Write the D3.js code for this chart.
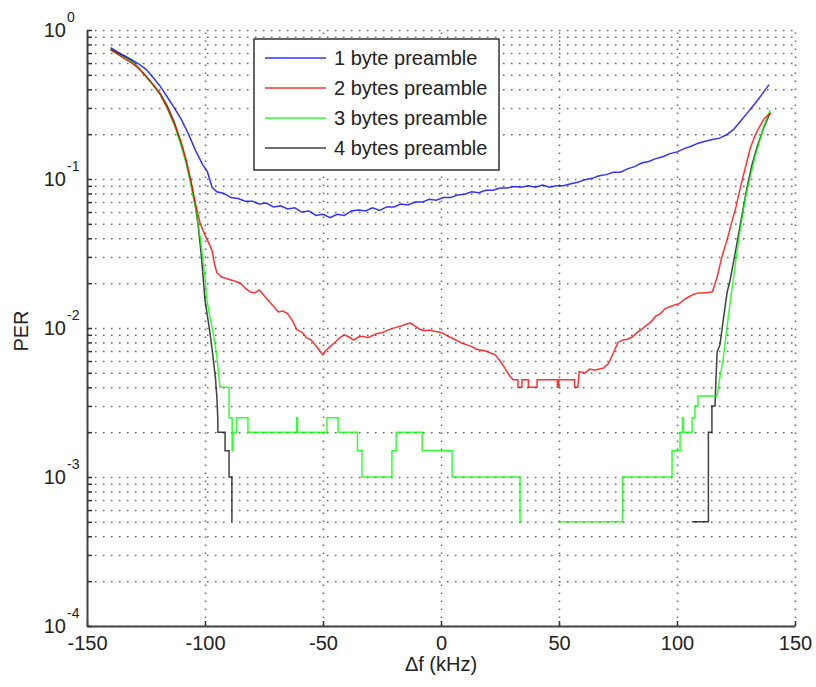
<!DOCTYPE html>
<html>
<head>
<meta charset="utf-8">
<script src="https://cdn.jsdelivr.net/npm/d3@7"></script>
<style>
  body { margin: 0; background: #fff; }
  text { font-family: "Liberation Sans", Arial, sans-serif; fill: #222; }
</style>
</head>
<body>
<script>
// PER vs frequency offset, 4 preamble lengths
var fBlue = [-140, -137, -134, -131, -128, -125, -122, -119, -116, -113, -110, -107, -104, -101, -99, -97, -95, -92, -89, -86, -83, -80, -77, -74, -71, -68, -65, -62, -59, -56, -53, -50, -47, -44, -41, -38, -35, -32, -29, -26, -23, -20, -17, -14, -11, -8, -5, -2, 1, 4, 7, 10, 13, 16, 19, 22, 25, 28, 31, 34, 37, 40, 43, 46, 49, 52, 55, 58, 61, 64, 67, 70, 73, 76, 79, 82, 85, 88, 91, 94, 97, 100, 103, 106, 109, 112, 115, 118, 121, 124, 127, 130, 133, 136, 139];
var pBlue = [0.76, 0.71, 0.67, 0.63, 0.59, 0.545, 0.48, 0.42, 0.355, 0.30, 0.25, 0.20, 0.155, 0.125, 0.112, 0.088, 0.082, 0.080, 0.075, 0.074, 0.071, 0.071, 0.068, 0.069, 0.065, 0.066, 0.063, 0.064, 0.060, 0.061, 0.057, 0.058, 0.055, 0.058, 0.057, 0.061, 0.062, 0.061, 0.064, 0.0615, 0.065, 0.065, 0.068, 0.067, 0.070, 0.070, 0.073, 0.072, 0.075, 0.075, 0.078, 0.079, 0.082, 0.081, 0.084, 0.084, 0.087, 0.087, 0.089, 0.088, 0.090, 0.088, 0.091, 0.088, 0.090, 0.090, 0.093, 0.095, 0.099, 0.101, 0.105, 0.107, 0.111, 0.111, 0.117, 0.121, 0.128, 0.131, 0.137, 0.141, 0.148, 0.152, 0.160, 0.166, 0.174, 0.179, 0.184, 0.188, 0.198, 0.215, 0.245, 0.280, 0.320, 0.370, 0.430];

var fRed = [-140, -137, -134, -131, -128, -125, -122, -119, -116, -113, -110, -108, -106, -104, -102, -100, -98, -97, -96, -95, -93, -91, -89, -87, -85, -83, -81, -79, -77, -75, -73, -71, -69, -67, -65, -63, -61, -59, -57, -55, -53, -51, -50, -49, -47, -45, -43, -41, -39, -37, -35, -33, -31, -29, -27, -25, -23, -21, -19, -17, -15, -13, -11, -9, -7, -5, -3, -1, 1, 3, 5, 7, 9, 11, 13, 15, 17, 19, 21, 23, 25, 27, 29, 30.5, 32.6, 32.6, 34.3, 34.3, 37, 37, 40.7, 40.7, 49.3, 49.3, 49.9, 49.9, 56.6, 56.6, 58, 58.5, 61, 63, 65, 67, 69, 71, 73, 75, 77, 79, 81, 83, 85, 87, 89, 91, 93, 95, 97, 99, 101, 103, 105, 107, 109, 111, 113, 115, 117, 119, 121, 123, 125, 127, 129, 131, 133, 135, 137, 139, 140];
var pRed = [0.74, 0.69, 0.64, 0.60, 0.55, 0.49, 0.43, 0.37, 0.30, 0.235, 0.175, 0.135, 0.098, 0.068, 0.050, 0.042, 0.036, 0.033, 0.027, 0.0235, 0.022, 0.0215, 0.021, 0.0205, 0.020, 0.0185, 0.0175, 0.0172, 0.018, 0.0165, 0.0152, 0.014, 0.0128, 0.0130, 0.0125, 0.0112, 0.0097, 0.0094, 0.0086, 0.0083, 0.0076, 0.0069, 0.0066, 0.0070, 0.0075, 0.0080, 0.0086, 0.0090, 0.0087, 0.0083, 0.0087, 0.0088, 0.0086, 0.0089, 0.0092, 0.0093, 0.0096, 0.0099, 0.0101, 0.0103, 0.0106, 0.0108, 0.0103, 0.0098, 0.0096, 0.0097, 0.0095, 0.0094, 0.0092, 0.0088, 0.0085, 0.0082, 0.0079, 0.0077, 0.0075, 0.0072, 0.0071, 0.0070, 0.0068, 0.0066, 0.0060, 0.0054, 0.0048, 0.0045, 0.0045, 0.0040, 0.0040, 0.0045, 0.0045, 0.0040, 0.0040, 0.0045, 0.0045, 0.0040, 0.0040, 0.0045, 0.0045, 0.0040, 0.0040, 0.0051, 0.0050, 0.0053, 0.0052, 0.0053, 0.0054, 0.0058, 0.0068, 0.0080, 0.0083, 0.0084, 0.0087, 0.0093, 0.0098, 0.0104, 0.0110, 0.0120, 0.0125, 0.0135, 0.0139, 0.0143, 0.0146, 0.0155, 0.0162, 0.0168, 0.0172, 0.0172, 0.0173, 0.0175, 0.022, 0.030, 0.038, 0.050, 0.065, 0.090, 0.120, 0.160, 0.195, 0.225, 0.255, 0.272, 0.278];

// 3 and 4 byte curves are quantised (0 = no error, not drawn on log axis)
var fGreen = [-140, -137, -134, -131, -128, -125, -122, -119, -116, -113, -110, -108, -106, -104, -102, -100, -99.2, -98, -96.6, -95, -94, -93.6, -89.8, -89.8, -88.5, -88.5, -88.1, -88.1, -86.5, -86.5, -81.8, -81.8, -61.2, -61.2, -60.8, -60.8, -48.3, -48.3, -43.6, -43.6, -35.4, -35.4, -33.5, -33.5, -20.8, -20.8, -19, -19, -8, -8, 4.7, 4.7, 33.5, 33.5, 34.3, 40, 49.6, 76.9, 76.9, 97.9, 97.9, 101.3, 101.3, 102.3, 102.3, 102.7, 102.7, 106.4, 106.4, 107.6, 107.6, 108.9, 108.9, 117, 118, 119.5, 121.2, 123, 124, 125, 126.7, 129, 131, 133, 135.2, 137, 139.4];
var pGreen = [0.73, 0.69, 0.65, 0.61, 0.555, 0.485, 0.425, 0.37, 0.30, 0.23, 0.165, 0.128, 0.092, 0.063, 0.040, 0.022, 0.0154, 0.012, 0.0093, 0.0065, 0.0045, 0.004, 0.004, 0.0025, 0.0025, 0.0015, 0.0015, 0.002, 0.002, 0.0025, 0.0025, 0.002, 0.002, 0.0025, 0.0025, 0.002, 0.002, 0.0025, 0.0025, 0.002, 0.002, 0.0015, 0.0015, 0.001, 0.001, 0.0015, 0.0015, 0.002, 0.002, 0.0015, 0.0015, 0.001, 0.001, 0.0005, 0.0005, 0, 0.0005, 0.0005, 0.001, 0.001, 0.0015, 0.0015, 0.002, 0.002, 0.0025, 0.0025, 0.002, 0.002, 0.0025, 0.0025, 0.003, 0.003, 0.0035, 0.0035, 0.0045, 0.0061, 0.0102, 0.017, 0.022, 0.029, 0.045, 0.075, 0.103, 0.14, 0.185, 0.23, 0.29];

var fBlack = [-140, -137, -134, -131, -128, -125, -122, -119, -116, -113, -110, -108, -106, -104, -103, -101.5, -100, -97.9, -96.6, -95.5, -95.3, -95.0, -94.8, -94.6, -94.5, -91.5, -91.5, -89.8, -89.8, -88.6, -88.6, 0, 106.4, 113.3, 113.3, 114.8, 114.8, 116.1, 116.5, 117, 118.2, 119.5, 121.2, 122.5, 124, 125.4, 127.5, 129.7, 131.8, 133.9, 136.5, 139.4];
var pBlack = [0.74, 0.70, 0.66, 0.62, 0.555, 0.49, 0.43, 0.375, 0.31, 0.24, 0.17, 0.13, 0.095, 0.065, 0.0507, 0.030, 0.0154, 0.0093, 0.0064, 0.0045, 0.004, 0.0035, 0.003, 0.0025, 0.002, 0.002, 0.0015, 0.0015, 0.001, 0.001, 0.0005, 0, 0.0005, 0.0005, 0.002, 0.002, 0.003, 0.003, 0.0045, 0.0069, 0.0077, 0.011, 0.0172, 0.021, 0.028, 0.037, 0.057, 0.088, 0.125, 0.164, 0.215, 0.277];

var seriesNames = ["1 byte preamble", "2 bytes preamble", "3 bytes preamble", "4 bytes preamble"];
var seriesColors = ["#0000ff", "#ff0000", "#00ff00", "#000000"];
var xTicks = [-150, -100, -50, 0, 50, 100, 150];
var yMajor = [1, 0.1, 0.01, 0.001, 0.0001];
var yExp = ["0", "-1", "-2", "-3", "-4"];

function drawChart(){
    var W = 816, H = 687;
    var left = 87, right = 795, top = 30, bottom = 626;

    var svg = d3.select("body")
        .append("svg")
        .attr("width", W)
        .attr("height", H);

    var x = d3.scaleLinear().domain([-150, 150]).range([left, right]);
    var y = d3.scaleLog().domain([1e-4, 1]).range([bottom, top]);

    //dotted grid
    var yGrid = svg.append("g")
        .attr("transform", "translate(" + left + ",0)")
        .call(d3.axisRight(y).tickValues(y.ticks()).tickSize(right - left).tickFormat(""));
    var xGrid = svg.append("g")
        .attr("transform", "translate(0," + bottom + ")")
        .call(d3.axisTop(x).tickValues(xTicks.slice(1)).tickSize(bottom - top).tickFormat(""));
    [yGrid, xGrid].forEach(function(g){
        g.select(".domain").remove();
        g.selectAll("line")
            .attr("stroke", "#666")
            .attr("stroke-width", 1.5)
            .attr("stroke-dasharray", "1.5,6.5");
    });

    //series
    var fs = [fBlue, fRed, fGreen, fBlack];
    var ps = [pBlue, pRed, pGreen, pBlack];
    var line = d3.line()
        .defined(function(d){ return d.p > 0; })
        .x(function(d){ return x(d.f); })
        .y(function(d){ return y(d.p); });

    var order = [3, 2, 1, 0];
    order.forEach(function(k){
        var pts = fs[k].map(function(f, i){ return {f: f, p: ps[k][i]}; });
        svg.append("path")
            .datum(pts)
            .attr("fill", "none")
            .attr("stroke", seriesColors[k])
            .attr("stroke-width", 1.5)
            .attr("stroke-opacity", k == 3 ? 0.75 : 0.8)
            .attr("d", line);
    });

    //axes
    var xAxis = svg.append("g")
        .attr("transform", "translate(0," + bottom + ")")
        .call(d3.axisBottom(x).tickValues(xTicks).tickSizeInner(-5).tickSizeOuter(0).tickPadding(10));
    xAxis.selectAll("text")
        .attr("font-size", 20)
        .attr("font-family", "Liberation Sans, Arial, sans-serif")
        .attr("fill", "#222")
        .text(function(d){ return d < 0 ? "-" + (-d) : d; });

    var yAxis = svg.append("g")
        .attr("transform", "translate(" + left + ",0)")
        .call(d3.axisLeft(y).tickValues(y.ticks()).tickSizeInner(-5).tickSizeOuter(0).tickFormat(""));

    [xAxis, yAxis].forEach(function(g){
        g.select(".domain").attr("stroke", "#444").attr("stroke-width", 2);
        g.selectAll(".tick line").attr("stroke", "#333").attr("stroke-width", 1.5);
    });

    //y labels 10^n
    svg.selectAll(".ylab")
        .data(yMajor)
        .enter()
        .append("text")
        .attr("class", "ylab")
        .attr("x", 66)
        .attr("y", function(d){ return y(d) + 7; })
        .attr("text-anchor", "end")
        .attr("font-size", 20)
        .text("10");
    svg.selectAll(".yexp")
        .data(yMajor)
        .enter()
        .append("text")
        .attr("class", "yexp")
        .attr("x", 67)
        .attr("y", function(d){ return y(d) - 8; })
        .attr("font-size", 14)
        .text(function(d, i){ return yExp[i]; });

    svg.append("text")
        .attr("x", (left + right) / 2)
        .attr("y", 671)
        .attr("text-anchor", "middle")
        .attr("font-size", 20)
        .text("\u0394f (kHz)");

    svg.append("text")
        .attr("transform", "translate(28," + ((top + bottom) / 2 + 3) + ") rotate(-90)")
        .attr("text-anchor", "middle")
        .attr("font-size", 20)
        .text("PER");

    //legend
    var lg = svg.append("g").attr("transform", "translate(254,39)");
    lg.append("rect")
        .attr("width", 245)
        .attr("height", 131)
        .attr("fill", "#fff")
        .attr("stroke", "#333")
        .attr("stroke-width", 1.5);
    var item = lg.selectAll(".item")
        .data(seriesNames)
        .enter()
        .append("g")
        .attr("class", "item")
        .attr("transform", function(d, i){ return "translate(0," + (19 + i * 30) + ")"; });
    item.append("line")
        .attr("x1", 11).attr("x2", 72)
        .attr("stroke", function(d, i){ return seriesColors[i]; })
        .attr("stroke-opacity", function(d, i){ return i == 3 ? 0.75 : 0.8; })
        .attr("stroke-width", 1.5);
    item.append("text")
        .attr("x", 80)
        .attr("y", 7)
        .attr("font-size", 20)
        .text(function(d){ return d; });
}

window.onload = drawChart;
</script>
</body>
</html>
